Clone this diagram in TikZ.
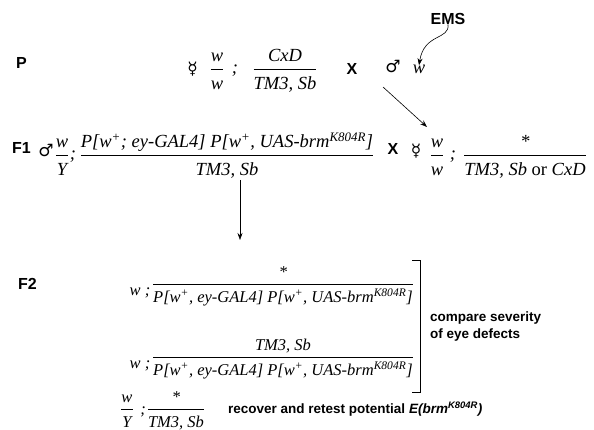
\documentclass[tikz,border=0pt]{standalone}
\usepackage{amsmath}
\usepackage{fontspec}
\setmainfont{Liberation Serif}
\setsansfont{Liberation Sans}
\newfontfamily\symf{DejaVu Sans}
\usetikzlibrary{arrows.meta}
\newcommand\gfrac[2]{$\displaystyle\frac{\text{#1}}{\text{\rule{0pt}{0.95em}#2}}$}
\newcommand\wplus{w\textsuperscript{+}}
\newcommand\brmk{brm\textsuperscript{K804R}}
\tikzset{
  geno/.style={font=\fontsize{18.5}{22}\selectfont\itshape, inner sep=0pt, anchor=base},
  genos/.style={font=\fontsize{16.5}{19}\selectfont\itshape, inner sep=0pt, anchor=base},
  lab/.style={font=\fontsize{16}{19}\selectfont\sffamily\bfseries, inner sep=0pt},
  note/.style={font=\fontsize{13.5}{16}\selectfont\sffamily\bfseries, inner sep=0pt},
  sym/.style={font=\fontsize{17}{20}\selectfont\symf, inner sep=0pt},
  arr/.style={-{Stealth[length=7pt,width=5pt]}, line width=0.6pt}
}
\begin{document}
\begin{tikzpicture}[x=1pt,y=-1pt]
\useasboundingbox (0,0) rectangle (594,430);
% Row P (bar y = 69)
\node[lab] (P) at (21.5,63) {P};
\node[sym] (femP) at (192.5,69) {☿};
\node[geno] (wwP) at (217,73.6) {\gfrac{w}{w}};
\node[geno] (scP) at (235,73.6) {;};
\node[geno] (cxd) at (285,73.6) {\gfrac{CxD}{TM3, Sb}};
\node[lab] (xP) at (352,69) {X};
\node[sym] (maleP) at (393,67) {♂};
\node[geno] (wmP) at (419,74) {w};
\node[lab] (ems) at (448,18.5) {EMS};
\draw[arr] (ems.south) .. controls (450,40) and (424,33) .. (wmP.north);
\coordinate (d1) at (383,87);
\coordinate (d2) at (427,127);
\draw[arr] (d1) -- (d2);
% Row F1 (bar y = 155)
\node[lab] (F1) at (21.5,148) {F1};
\node[sym] (maleF) at (46,150) {♂};
\node[geno] (wyF) at (62,159.6) {\gfrac{w}{Y}};
\node[geno] (scF) at (73,159.6) {;};
\node[geno] (bigF) at (227,159.6) {\gfrac{P[\wplus; ey-GAL4] P[\wplus, UAS-\brmk]}{TM3, Sb}};
\node[lab] (xF) at (393,149) {X};
\node[sym] (femF) at (416,151) {☿};
\node[geno] (wwF) at (437,159.6) {\gfrac{w}{w}};
\node[geno] (scF2) at (453,159.6) {;};
\node[geno] (orF) at (525,159.6) {\gfrac{*}{TM3, Sb \textup{or} CxD}};
\coordinate (v1) at (240,180);
\coordinate (v2) at (240,240);
\draw[arr] (v1) -- (v2);
% Row F2
\node[lab] (F2) at (27.5,284) {F2};
\node[genos] (w1) at (140,295) {w ;};
\node[genos] (f1) at (283,289) {\gfrac{*}{P[\wplus, ey-GAL4] P[\wplus, UAS-\brmk]}};
\node[genos] (w2) at (140,368) {w ;};
\node[genos] (f2) at (283,362) {\gfrac{TM3, Sb}{P[\wplus, ey-GAL4] P[\wplus, UAS-\brmk]}};
\coordinate (b1) at (412,260);
\coordinate (b2) at (420,260);
\coordinate (b3) at (420,392);
\coordinate (b4) at (412,392);
\draw[line width=0.8pt] (b1) -- (b2) -- (b3) -- (b4);
\node[note, anchor=west] (cmp1) at (430,318) {compare severity};
\node[note, anchor=west] (cmp2) at (430,335) {of eye defects};
% last row
\node[genos] (wyL) at (127,414) {\gfrac{w}{Y}};
\node[genos] (scL) at (143,414) {;};
\node[genos] (sbL) at (176,414) {\gfrac{*}{TM3, Sb}};
\node[note, anchor=west] (rec) at (228,409) {recover and retest potential \textit{E(brm\textsuperscript{K804R})}};
\end{tikzpicture}
\end{document}
